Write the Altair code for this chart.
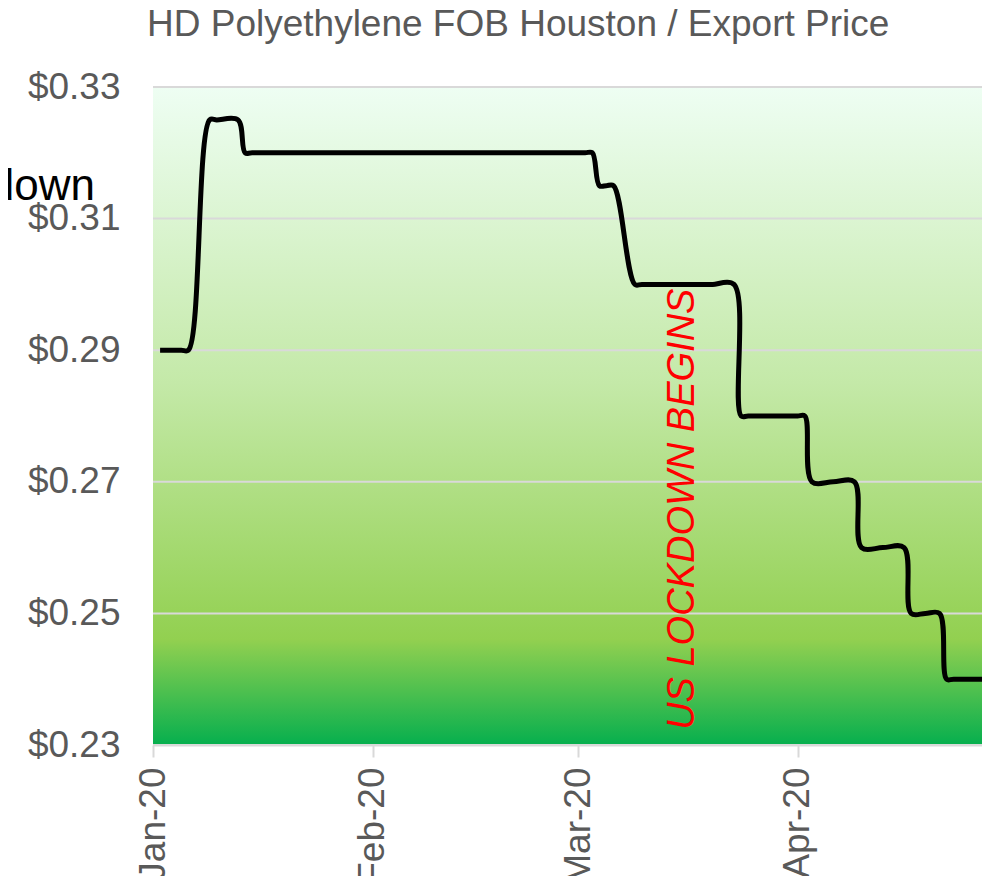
import altair as alt
import pandas as pd

# ---- data ----
dates = ["2020-01-02", "2020-01-03", "2020-01-05", "2020-01-06", "2020-01-09", "2020-01-10",
         "2020-01-13",
         "2020-01-14", "2020-01-15", "2020-02-28", "2020-03-02", "2020-03-03",
         "2020-03-04", "2020-03-05", "2020-03-06",
         "2020-03-09", "2020-03-10", "2020-03-19", "2020-03-20", "2020-03-23",
         "2020-03-24", "2020-03-25", "2020-03-31", "2020-04-01", "2020-04-02",
         "2020-04-03", "2020-04-06", "2020-04-09",
         "2020-04-10", "2020-04-13", "2020-04-16",
         "2020-04-17", "2020-04-19", "2020-04-21",
         "2020-04-22", "2020-04-23", "2020-04-30"]
prices = [0.29, 0.29, 0.29, 0.29, 0.325, 0.325,
          0.325,
          0.32, 0.32, 0.32, 0.32, 0.32,
          0.315, 0.315, 0.315,
          0.30, 0.30, 0.30, 0.30, 0.30,
          0.28, 0.28, 0.28, 0.28, 0.28,
          0.27, 0.27, 0.27,
          0.26, 0.26, 0.26,
          0.25, 0.25, 0.25,
          0.24, 0.24, 0.24]

y_ticks = [0.23, 0.25, 0.27, 0.29, 0.31, 0.33]
month_ticks = ["2020-01-01", "2020-02-01", "2020-03-01", "2020-04-01"]
x_start, x_end = "2020-01-01", "2020-04-27"

title_text = ["HD Polyethylene FOB Houston / Export Price"]
annotation_text = ["US LOCKDOWN BEGINS"]
annotation_date = ["2020-03-17T08:00:00"]
annotation_price = [0.2323]
cut_text = ["down"]

FONT = "Liberation Sans"
GRAY = "#595959"
GRID = "#D9D9D9"

W, H = 829, 658

line_df = pd.DataFrame({"date": [d + "T00:00:00" for d in dates], "price": prices})
grid_df = pd.DataFrame({"price": y_ticks})
ann_df = pd.DataFrame({"date": annotation_date,
                       "price": annotation_price, "label": annotation_text})
cut_df = pd.DataFrame({"label": cut_text})
title_df = pd.DataFrame({"label": title_text})
bg_df = pd.DataFrame({"k": [0]})


def dt(s):
    y, m, d = [int(v) for v in s.split("-")]
    return alt.DateTime(year=y, month=m, date=d)


x_scale = alt.Scale(domain=[dt(x_start), dt(x_end)], nice=False)
y_scale = alt.Scale(domain=[0.23, 0.33], nice=False, zero=False)

x_axis = alt.Axis(values=[dt(s) for s in month_ticks], format="%b-%y", labelAngle=270,
                  labelFontSize=37, labelColor=GRAY, labelFont=FONT, labelPadding=10,
                  tickSize=12, tickWidth=2, tickColor=GRID, domainColor=GRID, domainWidth=2,
                  grid=False, title=None, labelOverlap=False, labelFlush=False,
                  labelBound=False, zindex=1)
y_axis = alt.Axis(values=y_ticks, format="$.2f", labelFontSize=37, labelColor=GRAY,
                  labelFont=FONT, labelPadding=33, ticks=False, domain=False, grid=False,
                  title=None, labelOverlap=False, labelFlush=False, labelBound=False)

gradient = alt.LinearGradient(
    gradient="linear",
    stops=[alt.GradientStop(color="#EEFEF3", offset=0),
           alt.GradientStop(color="#C4E9A8", offset=0.45),
           alt.GradientStop(color="#92D050", offset=0.84),
           alt.GradientStop(color="#06AF4E", offset=1)],
    x1=0, x2=0, y1=0, y2=1)

bg = alt.Chart(bg_df).mark_rect(color=gradient).encode(
    x=alt.value(0), x2=alt.value("width"), y=alt.value(0), y2=alt.value("height"))

grid = alt.Chart(grid_df).mark_rule(color=GRID, strokeWidth=2).encode(
    y=alt.Y("price:Q", scale=y_scale, axis=y_axis))

line = alt.Chart(line_df).mark_line(color="black", strokeWidth=5,
                                    interpolate="catmull-rom", clip=True).encode(
    x=alt.X("date:T", scale=x_scale, axis=x_axis),
    y=alt.Y("price:Q", scale=y_scale, axis=y_axis))

ann = alt.Chart(ann_df).mark_text(angle=270, align="left", baseline="alphabetic",
                                  fontStyle="italic", fontSize=38, color="#FF0000",
                                  font=FONT).encode(
    x=alt.X("date:T", scale=x_scale, axis=x_axis),
    y=alt.Y("price:Q", scale=y_scale, axis=y_axis),
    text="label:N")

cut = alt.Chart(cut_df).mark_text(align="right", baseline="alphabetic", fontSize=44,
                                  color="black", font=FONT).encode(
    x=alt.value(-58), y=alt.value(113), text="label:N")

title = alt.Chart(title_df).mark_text(align="left", baseline="alphabetic", fontSize=37,
                                      color=GRAY, font=FONT).encode(
    x=alt.value(-6), y=alt.value(-51), text="label:N")

chart = alt.layer(bg, grid, line, ann, cut, title).properties(
    width=W, height=H,
    autosize=alt.AutoSizeParams(type="none"),
    padding={"left": 145, "top": 79, "right": 0, "bottom": 131},
).configure_view(stroke=None)

chart.save("out.html", embed_options={"renderer": "svg", "actions": False})
